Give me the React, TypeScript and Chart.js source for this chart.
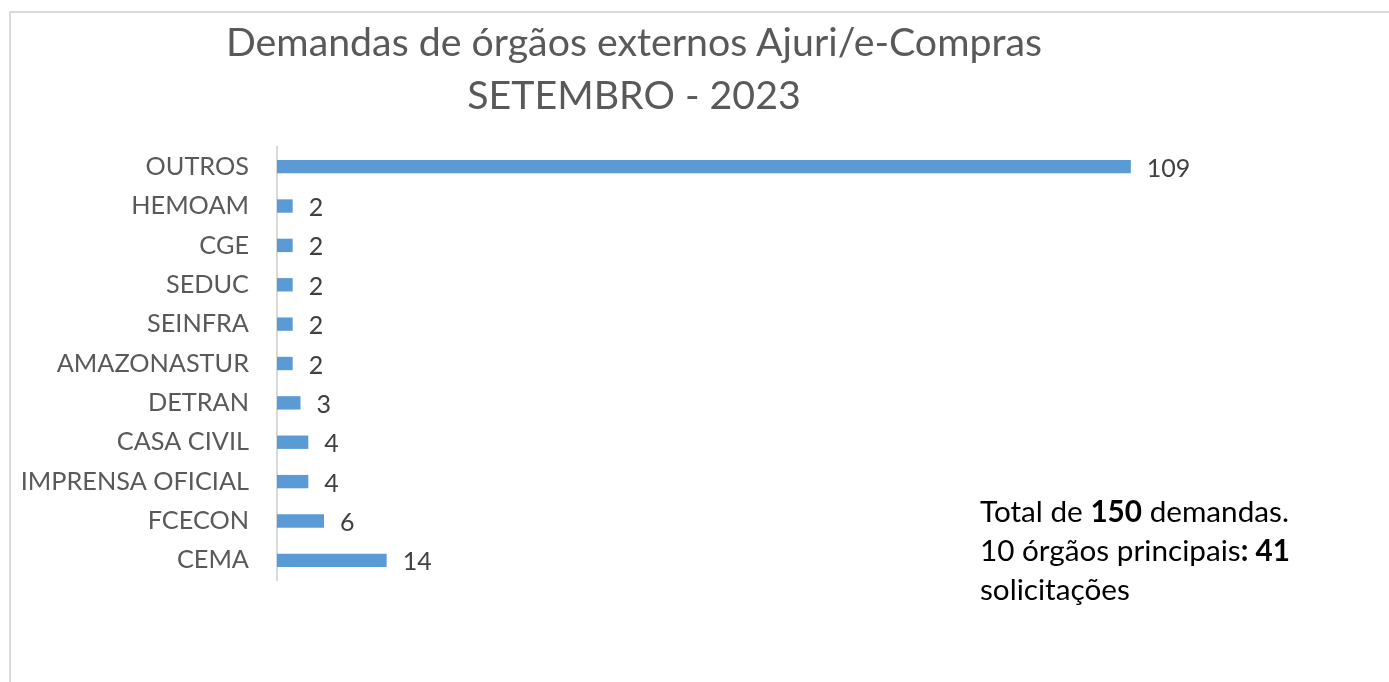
import React, { useEffect, useRef } from "react";
import { Chart, registerables } from "chart.js";

Chart.register(...registerables);

const categories = [
  "OUTROS",
  "HEMOAM",
  "CGE",
  "SEDUC",
  "SEINFRA",
  "AMAZONASTUR",
  "DETRAN",
  "CASA CIVIL",
  "IMPRENSA OFICIAL",
  "FCECON",
  "CEMA",
];
const demandas = [109, 2, 2, 2, 2, 2, 3, 4, 4, 6, 14];
const titleLines = ["Demandas de órgãos externos Ajuri/e-Compras", "SETEMBRO - 2023"];
const xMax = 120;

const FONT = "Lato";

const valueLabels = {
  id: "valueLabels",
  afterDatasetsDraw(chart: any) {
    const ctx = chart.ctx;
    const meta = chart.getDatasetMeta(0);
    ctx.save();
    ctx.font = `25px ${FONT}`;
    ctx.fillStyle = "#404040";
    ctx.textAlign = "left";
    ctx.textBaseline = "middle";
    meta.data.forEach((bar: any, i: number) => {
      ctx.fillText(String(chart.data.datasets[0].data[i]), bar.x + 16, bar.y + 2);
    });
    ctx.restore();
  },
};

export default function App() {
  const canvasRef = useRef<HTMLCanvasElement | null>(null);

  useEffect(() => {
    const canvas = canvasRef.current;
    if (!canvas) return;
    const chart = new Chart(canvas, {
      type: "bar",
      data: {
        labels: categories,
        datasets: [
          {
            data: demandas,
            backgroundColor: "#5B9BD5",
            categoryPercentage: 0.5,
            barPercentage: 0.68,
          },
        ],
      },
      options: {
        indexAxis: "y",
        responsive: false,
        animation: false,
        layout: { padding: { left: 0, top: 147, right: 172, bottom: 102 } },
        plugins: {
          legend: { display: false },
          title: { display: false },
          tooltip: { enabled: false },
        },
        scales: {
          x: {
            display: false,
            min: 0,
            max: xMax,
          },
          y: {
            afterFit: (scale: any) => {
              scale.width = 277;
            },
            grid: { display: false },
            border: { display: true, color: "#d9d9d9", width: 2 },
            ticks: {
              color: "#595959",
              padding: 20,
              font: { family: FONT, size: 25.3 },
            },
          },
        },
      },
      plugins: [valueLabels],
    });
    return () => chart.destroy();
  }, []);

  return (
    <div
      style={{
        position: "fixed",
        left: 0,
        top: 0,
        width: 1389,
        height: 682,
        background: "#ffffff",
        overflow: "hidden",
      }}
    >
      <div
        style={{
          position: "absolute",
          left: 9,
          top: 11,
          width: 1500,
          height: 800,
          borderTop: "2px solid #d9d9d9",
          borderLeft: "2px solid #d9d9d9",
        }}
      />
      <canvas
        ref={canvasRef}
        width={1389}
        height={682}
        style={{ position: "absolute", left: 0, top: 0, width: 1389, height: 682 }}
      />
      <div
        style={{
          position: "absolute",
          left: 134,
          width: 1000,
          top: 14,
          textAlign: "center",
          fontFamily: FONT,
          fontSize: 39.3,
          lineHeight: "53px",
          color: "#595959",
        }}
      >
        {titleLines.map((t) => (
          <div key={t}>{t}</div>
        ))}
      </div>
      <div
        style={{
          position: "absolute",
          left: 980,
          top: 491,
          fontFamily: FONT,
          fontSize: 29.7,
          lineHeight: "39px",
          color: "#000000",
        }}
      >
        <div>
          Total de <b>150</b> demandas.
        </div>
        <div>
          10 órgãos principais<b>: 41</b>
        </div>
        <div>solicitações</div>
      </div>
    </div>
  );
}
